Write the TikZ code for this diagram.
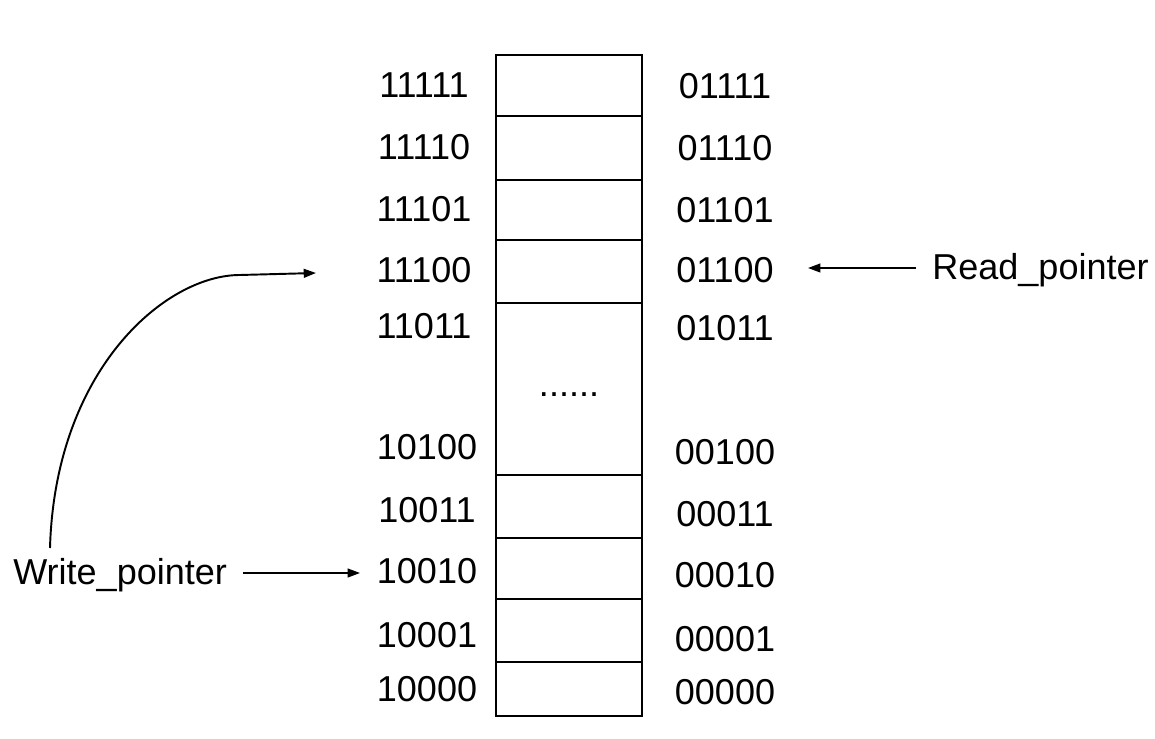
\documentclass[tikz,border=0pt]{standalone}
\usepackage{fontspec}
\setmainfont{Liberation Sans}
\usepackage{tikz}
\usetikzlibrary{arrows.meta}

\tikzset{
  addr/.style={inner sep=0pt,font=\fontsize{20.5}{24}\selectfont},
  ptr/.style={-{Triangle[length=7pt,width=5pt]},line width=0.9pt},
}

\begin{document}
\begin{tikzpicture}[x=0.02cm,y=-0.02cm]
    \useasboundingbox (0,0) rectangle (1155,739);

    % memory column
    \draw[line width=1.1pt] (496,55) rectangle (642,716);
    \draw[line width=1.1pt] (496,116) -- (642,116);
    \draw[line width=1.1pt] (496,180) -- (642,180);
    \draw[line width=1.1pt] (496,240) -- (642,240);
    \draw[line width=1.1pt] (496,303) -- (642,303);
    \draw[line width=1.1pt] (496,475) -- (642,475);
    \draw[line width=1.1pt] (496,538) -- (642,538);
    \draw[line width=1.1pt] (496,599) -- (642,599);
    \draw[line width=1.1pt] (496,662) -- (642,662);
    \node[addr] (dots) at (569,395) {......};

    % write addresses
    \node[addr] (w31) at (424,85) {11111};
    \node[addr] (w30) at (424,147) {11110};
    \node[addr] (w29) at (424,209) {11101};
    \node[addr] (w28) at (424,270) {11100};
    \node[addr] (w27) at (424,326) {11011};
    \node[addr] (w20) at (427,447) {10100};
    \node[addr] (w19) at (427,510) {10011};
    \node[addr] (w18) at (427,571) {10010};
    \node[addr] (w17) at (427,635) {10001};
    \node[addr] (w16) at (427,689) {10000};

    % read addresses
    \node[addr] (r15) at (725,86) {01111};
    \node[addr] (r14) at (725,148) {01110};
    \node[addr] (r13) at (725,210) {01101};
    \node[addr] (r12) at (725,270) {01100};
    \node[addr] (r11) at (725,328) {01011};
    \node[addr] (r4) at (725,452) {00100};
    \node[addr] (r3) at (725,514) {00011};
    \node[addr] (r2) at (725,575) {00010};
    \node[addr] (r1) at (725,639) {00001};
    \node[addr] (r0) at (725,692) {00000};

    % pointers
    \node[addr,anchor=base west] (rp) at (932,280) {Read\_pointer};
    \node[addr,anchor=base west] (wp) at (13,584) {Write\_pointer};

    \coordinate (rtip) at (808,268);
    \coordinate (wtip) at (360,573);
    \coordinate (wtail) at (243,573);
    \coordinate (cstart) at (50,548);
    \coordinate (cbend) at (240,275);
    \coordinate (ctip) at (316,273);

    \draw[ptr] (916,268) -- (rtip);
    \draw[ptr] (wtail) -- (wtip);
    \draw[ptr,line width=1.1pt] (cstart) .. controls (55,370) and (165,275) .. (cbend) -- (ctip);
\end{tikzpicture}
\end{document}
